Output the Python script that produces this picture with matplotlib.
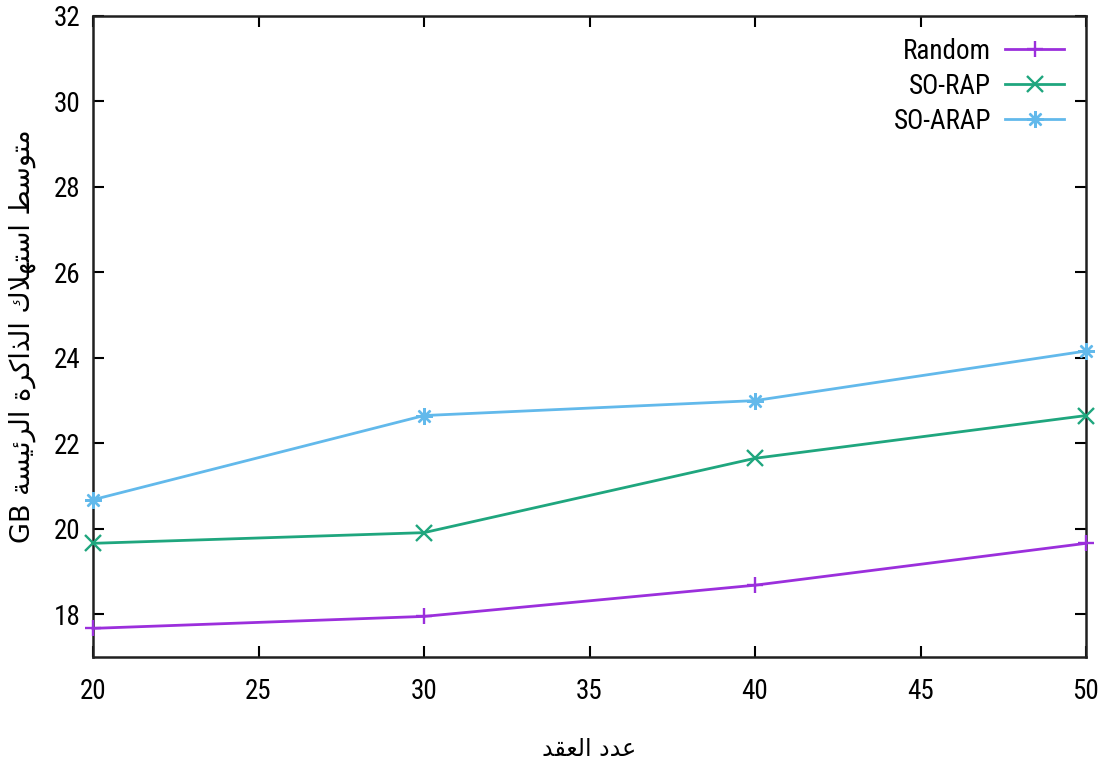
import matplotlib
matplotlib.use("Agg")
import matplotlib.pyplot as plt
from matplotlib import font_manager

# ---------------- data ----------------
nodes = [20, 30, 40, 50]
random_vals = [17.67, 17.95, 18.68, 19.66]
sorap_vals = [19.66, 19.91, 21.65, 22.65]
soarap_vals = [20.68, 22.65, 23.00, 24.16]
series_names = ["Random", "SO-RAP", "SO-ARAP"]
x_ticks = [20, 25, 30, 35, 40, 45, 50]
y_ticks = [18, 20, 22, 24, 26, 28, 30, 32]
xlabel_text = "عدد العقد"
ylabel_text = "متوسط استهلاك الذاكرة الرئيسة GB"

# ------------- simple Arabic shaping (presentation forms, visual order) -------------
AR = {
    'ا': ('\ufe8d', '\ufe8e'),
    'د': ('\ufea9', '\ufeaa'),
    'ذ': ('\ufeab', '\ufeac'),
    'ر': ('\ufead', '\ufeae'),
    'ة': ('\ufe93', '\ufe94'),
    'و': ('\ufeed', '\ufeee'),
    'ت': ('\ufe95', '\ufe96', '\ufe97', '\ufe98'),
    'س': ('\ufeb1', '\ufeb2', '\ufeb3', '\ufeb4'),
    'ط': ('\ufec1', '\ufec2', '\ufec3', '\ufec4'),
    'ع': ('\ufec9', '\ufeca', '\ufecb', '\ufecc'),
    'ق': ('\ufed5', '\ufed6', '\ufed7', '\ufed8'),
    'ك': ('\ufed9', '\ufeda', '\ufedb', '\ufedc'),
    'ل': ('\ufedd', '\ufede', '\ufedf', '\ufee0'),
    'م': ('\ufee1', '\ufee2', '\ufee3', '\ufee4'),
    'ه': ('\ufee9', '\ufeea', '\ufeeb', '\ufeec'),
    'ي': ('\ufef1', '\ufef2', '\ufef3', '\ufef4'),
    'ئ': ('\ufe89', '\ufe8a', '\ufe8b', '\ufe8c'),
}


def shape_word(w):
    out = []
    i = 0
    prev_joins = False
    while i < len(w):
        c = w[i]
        if c == 'ل' and i + 1 < len(w) and w[i + 1] == 'ا':
            out.append('\ufefc' if prev_joins else '\ufefb')
            prev_joins = False
            i += 2
            continue
        f = AR[c]
        nxt = i + 1 < len(w) and w[i + 1] in AR
        can_next = len(f) == 4 and nxt
        if prev_joins and can_next:
            g = f[3]
        elif prev_joins:
            g = f[1]
        elif can_next:
            g = f[2]
        else:
            g = f[0]
        out.append(g)
        prev_joins = len(f) == 4
        i += 1
    return ''.join(out)


def visual(text):
    toks = text.split(' ')
    res = []
    for t in toks:
        if t and t[0] in AR:
            res.append(shape_word(t)[::-1])
        else:
            res.append(t)
    return ' '.join(res[::-1])


# pick a narrow sans font if one is installed
avail = {f.name for f in font_manager.fontManager.ttflist}
stretch = 'normal'
main_font = None
for cand in ['Liberation Sans Narrow', 'Arial Narrow', 'Roboto Condensed',
             'Open Sans Condensed', 'DejaVu Sans Condensed']:
    if cand in avail:
        main_font = cand
        break
if main_font is None:
    cond = [f for f in font_manager.fontManager.ttflist
            if f.name == 'DejaVu Sans' and 'ondensed' in str(f.stretch) or
            (f.name == 'DejaVu Sans' and isinstance(f.stretch, int) and f.stretch < 500)]
    if cond:
        main_font = 'DejaVu Sans'
        stretch = 'condensed'
    else:
        main_font = 'Roboto' if 'Roboto' in avail else 'DejaVu Sans'

plt.rcParams['font.family'] = [main_font, 'DejaVu Sans']
plt.rcParams['font.stretch'] = stretch
tick_size = 19.5

fig = plt.figure(figsize=(11.05, 7.71), dpi=100)
ax = fig.add_axes([93 / 1105, 1 - 657 / 771, (1086 - 93) / 1105, (657 - 16) / 771])

colors = ['#9b2fdc', '#1fa67e', '#62b9eb']
markers = ['+', 'x', (8, 2, 0)]
for vals, name, col, mk in zip([random_vals, sorap_vals, soarap_vals], series_names, colors, markers):
    ax.plot(nodes, vals, color=col, lw=2.0, marker=mk, markersize=12,
            markeredgewidth=1.7, label=name, clip_on=False, zorder=3)

ax.set_xlim(20, 50)
ax.set_ylim(17, 32)
ax.set_xticks(x_ticks)
ax.set_yticks(y_ticks)
ax.tick_params(direction='in', length=8, width=1.5, top=True, right=True,
               labelsize=tick_size, colors='black')
ax.tick_params(axis='x', pad=15)
ax.tick_params(axis='y', pad=9)
for s in ax.spines.values():
    s.set_linewidth(1.8)
    s.set_color('#202020')

ax.set_xlabel(visual(xlabel_text), fontsize=17, family='DejaVu Sans', labelpad=23)
ax.set_ylabel(visual(ylabel_text), fontsize=19.5, family='DejaVu Sans', labelpad=13)

leg = ax.legend(loc='upper right', markerfirst=False, frameon=False, fontsize=tick_size,
                handlelength=2.2, labelspacing=0.3, borderaxespad=0.4,
                handletextpad=0.5)

fig.savefig('out.png', dpi=100)
